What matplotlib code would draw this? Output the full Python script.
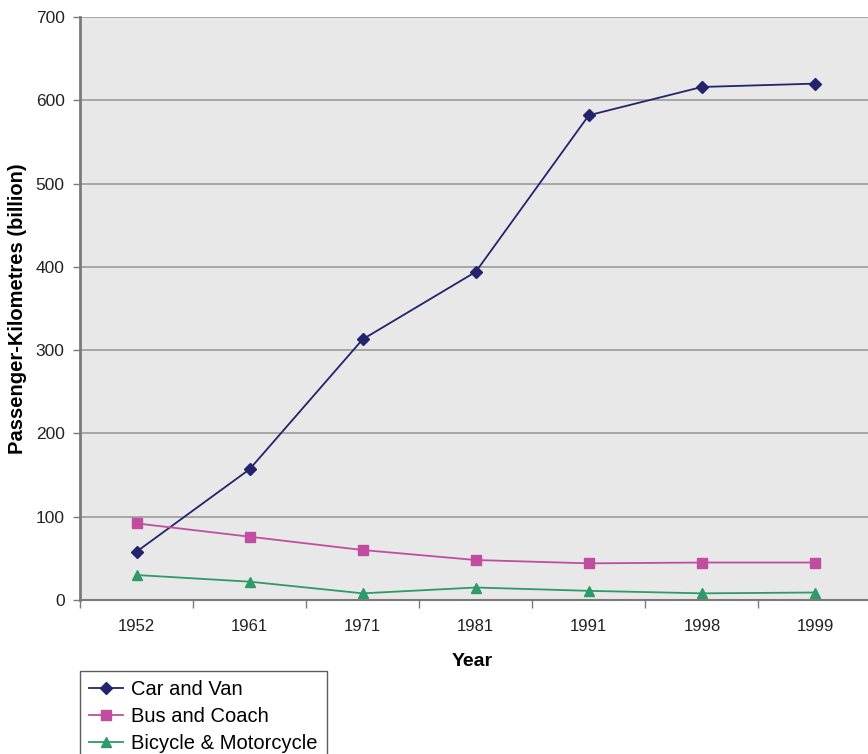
import matplotlib.pyplot as plt
from matplotlib.ticker import FixedLocator, NullFormatter

plt.rcParams["font.family"] = ["Liberation Sans", "DejaVu Sans"]

years = ["1952", "1961", "1971", "1981", "1991", "1998", "1999"]
car_van = [58, 157, 313, 394, 582, 616, 620]
bus_coach = [92, 76, 60, 48, 44, 45, 45]
bicycle_moto = [30, 22, 8, 15, 11, 8, 9]

NAVY = "#23236E"
MAGENTA = "#C04DA0"
GREEN = "#2E9A68"
GRID = "#A0A0A0"
AXIS = "#7A7A7A"
TEXT = "#222222"

fig = plt.figure(figsize=(8.68, 7.54), dpi=100)
ax = fig.add_axes([80 / 868, 1 - 600 / 754, 791.5 / 868, 583 / 754])
ax.set_facecolor("#E8E8E8")

x = list(range(len(years)))
ax.plot(x, car_van, color=NAVY, lw=1.3, marker="D", ms=6.5, label="Car and Van")
ax.plot(x, bus_coach, color=MAGENTA, lw=1.3, marker="s", ms=7, label="Bus and Coach")
ax.plot(x, bicycle_moto, color=GREEN, lw=1.3, marker="^", ms=7.5, label="Bicycle & Motorcycle")

ax.set_xlim(-0.5, len(years) - 0.5)
ax.set_ylim(0, 700)
ax.set_yticks(range(0, 701, 100))
ax.yaxis.grid(True, color=GRID, lw=1.3)
ax.set_axisbelow(True)

# category ticks at boundaries, labels centred
ax.xaxis.set_major_locator(FixedLocator([i - 0.5 for i in range(len(years) + 1)]))
ax.xaxis.set_major_formatter(NullFormatter())
ax.xaxis.set_minor_locator(FixedLocator(x))
ax.set_xticklabels(years, minor=True)
ax.tick_params(axis="x", which="major", length=6, width=1, color=AXIS, direction="out")
ax.tick_params(axis="x", which="minor", length=0, pad=14, labelsize=12, labelcolor=TEXT)
ax.tick_params(axis="y", length=5, width=1, color=AXIS, direction="out", labelsize=12.5,
               labelcolor=TEXT, pad=6)

for side in ("top", "right"):
    ax.spines[side].set_visible(False)
ax.spines["left"].set_color(AXIS)
ax.spines["left"].set_linewidth(2)
ax.spines["bottom"].set_color(AXIS)
ax.spines["bottom"].set_linewidth(1.5)

ax.set_xlabel("Year", fontsize=14, fontweight="bold")
ax.xaxis.set_label_coords(0.495, -53 / 583)
ax.set_ylabel("Passenger-Kilometres (billion)", fontsize=14.5, fontweight="bold")
ax.yaxis.set_label_coords(-53 / 791.5, 0.5)

leg = fig.legend(loc="upper left", bbox_to_anchor=(80 / 868, 1 - 671 / 754),
                 frameon=True, fancybox=False, edgecolor="#333333", fontsize=14.5,
                 handlelength=1.7, borderpad=0.45, labelspacing=0.4, handletextpad=0.4,
                 borderaxespad=0)
leg.get_frame().set_linewidth(1)

fig.savefig("out.png", dpi=100)
